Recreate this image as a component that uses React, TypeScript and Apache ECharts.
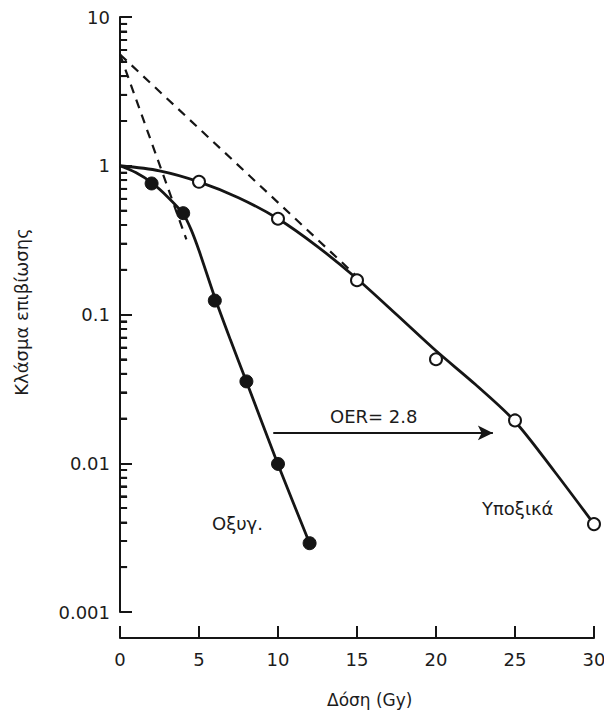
import React, { useEffect, useRef } from "react";
import * as echarts from "echarts";

// ---- data ----
const oxicDoses = [2, 4, 6, 8, 10, 12];
const oxicSurvival = [0.76, 0.48, 0.124, 0.0355, 0.0099, 0.0029];

const hypoxicDoses = [5, 10, 15, 20, 25, 30];
const hypoxicSurvival = [0.78, 0.44, 0.17, 0.05, 0.0194, 0.0039];

// fitted curves
const oxicCurveX = [0, 1, 2, 3, 4, 4.5, 5, 6, 7, 8, 10, 12];
const oxicCurveY = [1.0, 0.9, 0.77, 0.62, 0.476, 0.372, 0.269, 0.13, 0.067, 0.0355, 0.0098, 0.0029];

const hypoxicCurveX = [0, 2.5, 5, 7.5, 10, 12.5, 15, 17.5, 20, 22.5, 25, 27.5, 30];
const hypoxicCurveY = [1.0, 0.925, 0.78, 0.61, 0.44, 0.286, 0.174, 0.1, 0.057, 0.0338, 0.0191, 0.0088, 0.0039];

// extrapolation (dashed) lines
const oxicDashX = [0, 4.2];
const oxicDashY = [5.6, 0.32];
const hypoxicDashX = [0, 15];
const hypoxicDashY = [5.6, 0.18];

// OER arrow
const oerArrowX = [9.7, 23.6];
const oerArrowY = 0.016;

const xTicks = [0, 5, 10, 15, 20, 25, 30];
const yTickLabels = ["0.001", "0.01", "0.1", "1", "10"];
const yMinorTicks = [
  0.002, 0.003, 0.004, 0.005, 0.006, 0.007, 0.008, 0.009,
  0.02, 0.03, 0.04, 0.05, 0.06, 0.07, 0.08, 0.09,
  0.2, 0.3, 0.4, 0.5, 0.6, 0.7, 0.8, 0.9,
  2, 3, 4, 5, 6, 7, 8, 9,
];
// minor tick length expressed in dose units (about 7 px)
const minorTickSpan = 0.45;

const INK = "#151515";
const TEXT = "#1c1c1c";
const FONT = "DejaVu Sans";

const zip = (xs: number[], ys: number[]) => xs.map((x, i) => [x, ys[i]]);

const textGraphics = () => [
  {
    type: "text",
    x: 21,
    y: 312,
    rotation: Math.PI / 2,
    style: { text: "Κλάσμα επιβίωσης", fill: TEXT, font: `18px "${FONT}"`, align: "center", verticalAlign: "middle" },
  },
  {
    type: "text",
    x: 327,
    y: 700,
    style: { text: "Δόση (Gy)", fill: TEXT, font: `17px "${FONT}"`, align: "left", verticalAlign: "middle" },
  },
  {
    type: "text",
    x: 212,
    y: 523,
    style: { text: "Οξυγ.", fill: TEXT, font: `18px "${FONT}"`, align: "left", verticalAlign: "middle" },
  },
  {
    type: "text",
    x: 482,
    y: 508,
    style: { text: "Υποξικά", fill: TEXT, font: `18px "${FONT}"`, align: "left", verticalAlign: "middle" },
  },
  {
    type: "text",
    x: 330,
    y: 416,
    style: { text: "OER= 2.8", fill: TEXT, font: `18px "${FONT}"`, align: "left", verticalAlign: "middle" },
  },
];

export default function App() {
  const ref = useRef<HTMLDivElement>(null);

  useEffect(() => {
    if (!ref.current) return;
    const chart = echarts.init(ref.current, null, { renderer: "svg" });

    const option: any = {
      animation: false,
      backgroundColor: "#ffffff",
      grid: [
        // plotting grid (survival axis runs 10 → 0.001)
        { left: 120, right: 10, top: 17, bottom: 103, containLabel: false, outerBoundsMode: "none" },
        // grid that only carries the dose axis, set slightly below the survival axis
        { left: 120, right: 10, top: 17, bottom: 77, containLabel: false, outerBoundsMode: "none" },
      ],
      xAxis: [
        {
          gridIndex: 0,
          type: "value",
          min: xTicks[0],
          max: xTicks[xTicks.length - 1],
          interval: 5,
          axisLine: { show: false },
          axisTick: { show: false },
          axisLabel: { show: false },
          splitLine: { show: false },
        },
        {
          gridIndex: 1,
          type: "value",
          min: xTicks[0],
          max: xTicks[xTicks.length - 1],
          interval: 5,
          axisLine: { show: true, onZero: false, lineStyle: { color: INK, width: 2 } },
          axisTick: { show: true, inside: true, length: 12, lineStyle: { color: INK, width: 2 } },
          axisLabel: { color: TEXT, fontFamily: FONT, fontSize: 18, margin: 12 },
          splitLine: { show: false },
        },
      ],
      yAxis: [
        {
          gridIndex: 0,
          type: "log",
          min: 0.001,
          max: 10,
          axisLine: { show: true, onZero: false, lineStyle: { color: INK, width: 2 } },
          axisTick: { show: true, inside: true, length: 12, lineStyle: { color: INK, width: 2 } },
          axisLabel: {
            color: TEXT,
            fontFamily: FONT,
            fontSize: 18,
            margin: 10,
            formatter: (v: number) => {
              const idx = Math.round(Math.log10(v)) + 3;
              return yTickLabels[idx] ?? String(v);
            },
          },
          splitLine: { show: false },
        },
        {
          gridIndex: 1,
          type: "value",
          min: 0,
          max: 1,
          show: false,
        },
      ],
      graphic: textGraphics(),
      series: [
        {
          name: "minor ticks",
          type: "line",
          xAxisIndex: 0,
          yAxisIndex: 0,
          data: [],
          symbol: "none",
          markLine: {
            symbol: ["none", "none"],
            label: { show: false },
            lineStyle: { color: INK, width: 2, type: "solid" },
            data: yMinorTicks.map((v) => [
              { coord: [0, v] },
              { coord: [minorTickSpan, v] },
            ]),
          },
        },
        {
          name: "oxic dash",
          type: "line",
          xAxisIndex: 0,
          yAxisIndex: 0,
          data: zip(oxicDashX, oxicDashY),
          symbol: "none",
          lineStyle: { color: INK, width: 2.2, type: [9, 7] },
        },
        {
          name: "hypoxic dash",
          type: "line",
          xAxisIndex: 0,
          yAxisIndex: 0,
          data: zip(hypoxicDashX, hypoxicDashY),
          symbol: "none",
          lineStyle: { color: INK, width: 2.2, type: [9, 7] },
          markLine: {
            symbol: ["none", "arrow"],
            symbolSize: [11, 15],
            label: { show: false },
            lineStyle: { color: INK, width: 2, type: "solid" },
            data: [
              [
                { coord: [oerArrowX[0], oerArrowY] },
                { coord: [oerArrowX[1], oerArrowY] },
              ],
            ],
          },
        },
        {
          name: "oxic curve",
          type: "line",
          xAxisIndex: 0,
          yAxisIndex: 0,
          data: zip(oxicCurveX, oxicCurveY),
          smooth: 0.25,
          symbol: "none",
          lineStyle: { color: INK, width: 2.8 },
          z: 3,
        },
        {
          name: "hypoxic curve",
          type: "line",
          xAxisIndex: 0,
          yAxisIndex: 0,
          data: zip(hypoxicCurveX, hypoxicCurveY),
          smooth: 0.3,
          symbol: "none",
          lineStyle: { color: INK, width: 2.8 },
          z: 3,
        },
        {
          name: "Οξυγ.",
          type: "scatter",
          xAxisIndex: 0,
          yAxisIndex: 0,
          data: zip(oxicDoses, oxicSurvival),
          symbol: "circle",
          symbolSize: 13,
          itemStyle: { color: INK, borderColor: INK, borderWidth: 1, opacity: 1 },
          z: 5,
        },
        {
          name: "Υποξικά",
          type: "scatter",
          xAxisIndex: 0,
          yAxisIndex: 0,
          data: zip(hypoxicDoses, hypoxicSurvival),
          symbol: "circle",
          symbolSize: 12,
          itemStyle: { color: "#ffffff", borderColor: INK, borderWidth: 2, opacity: 1 },
          z: 5,
        },
      ],
    };

    chart.setOption(option);

    // minor ticks of the log axis, positioned through the chart's own y scale
    const tickLines: any[] = [];
    yMinorTicks.forEach((v) => {
      const p = chart.convertToPixel({ xAxisIndex: 0, yAxisIndex: 0 }, [0, v]) as number[];
      if (p && isFinite(p[0]) && isFinite(p[1])) {
        tickLines.push({
          type: "line",
          z: 50,
          shape: { x1: p[0], y1: p[1], x2: p[0] + 7, y2: p[1] },
          style: { stroke: INK, lineWidth: 1.8 },
        });
      }
    });
    chart.setOption({ graphic: [...textGraphics(), ...tickLines] });

    return () => chart.dispose();
  }, []);

  return (
    <div
      ref={ref}
      style={{ position: "fixed", left: 0, top: 0, width: 604, height: 715, background: "#fff" }}
    />
  );
}
